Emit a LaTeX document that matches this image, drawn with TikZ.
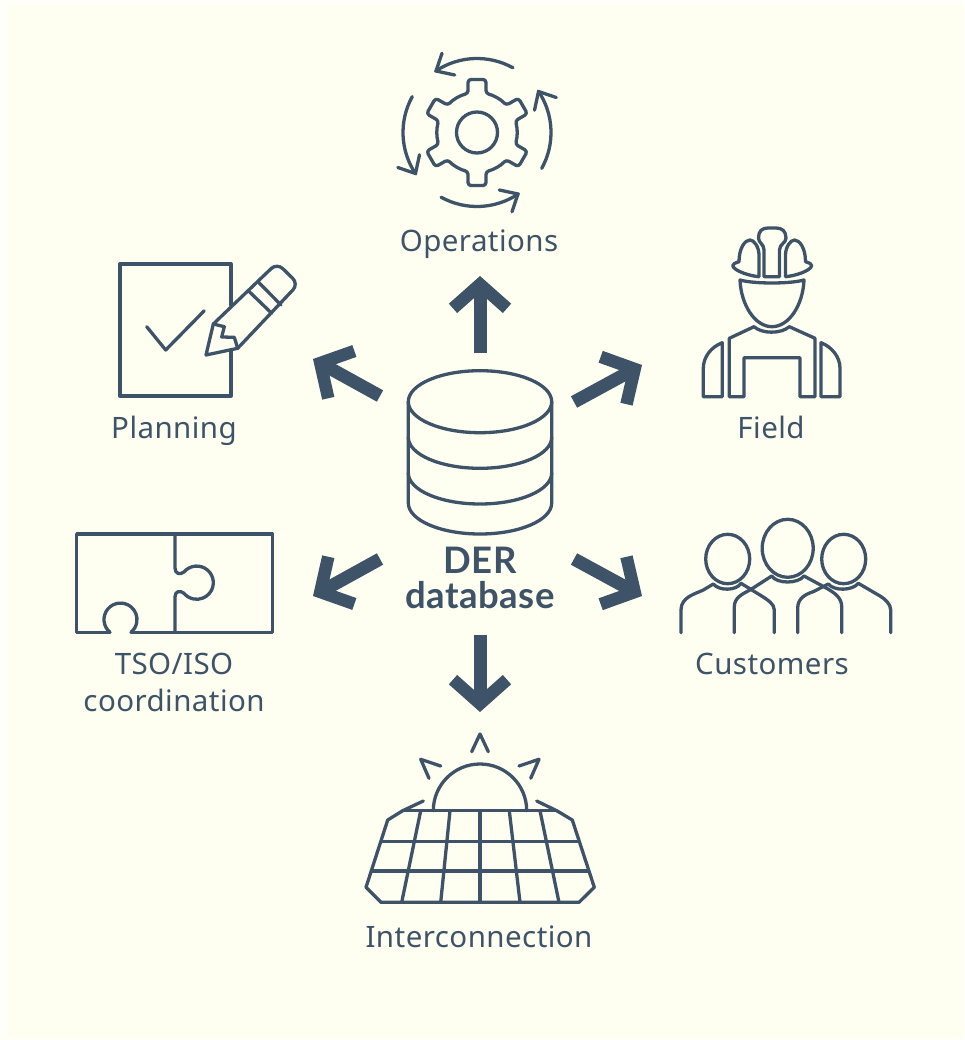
\documentclass[tikz,border=0pt]{standalone}
\usepackage{fontspec}
\setmainfont{Noto Sans}[LetterSpace=1.5]
\newfontfamily\dbfont{Lato}[LetterSpace=1.5]
\usetikzlibrary{arrows.meta}
\definecolor{slateblue}{HTML}{3E5368}
\definecolor{ivorybg}{HTML}{FEFFF0}
\definecolor{ivoryrim}{HTML}{FFFFF9}
\tikzset{
  iconline/.style={draw=slateblue, line width=3.3pt, line join=round, line cap=round},
  bigarrow/.style={draw=slateblue, line width=13pt, -{Straight Barb[length=24pt,width=54pt,line width=12.5pt]}},
  caption/.style={text=slateblue, inner sep=0pt, anchor=base, align=center, font=\fontsize{29.5}{37}\selectfont},
  dbcaption/.style={caption, font=\fontsize{36.5}{35}\selectfont\dbfont\bfseries}
}
\begin{document}
\begin{tikzpicture}[x=1pt,y=-1pt]
  \useasboundingbox (0,0) rectangle (964,1040);
  \fill[ivoryrim] (0,0) rectangle (964,1040);
  \fill[ivorybg] (8,5) rectangle (964,1038);

  % database
  \draw[iconline] (480,401.7) ellipse[x radius=71.7, y radius=31];
  \draw[iconline] (408.3,401.7) -- (408.3,503) arc[start angle=180, end angle=0, x radius=71.7, y radius=31] -- (551.7,401.7);
  \draw[iconline] (408.3,437.3) arc[start angle=180, end angle=0, x radius=71.7, y radius=31];
  \draw[iconline] (408.3,473) arc[start angle=180, end angle=0, x radius=71.7, y radius=31];
  \node[dbcaption] (dbname) at (480,573) {DER};
  \node[dbcaption] (dbname2) at (480,608) {database};

  % arrows
  \coordinate (opsFrom) at (480,353);    \coordinate (opsTo) at (480,276);
  \coordinate (planFrom) at (380,396);   \coordinate (planTo) at (313,359);
  \coordinate (fieldFrom) at (574,402);  \coordinate (fieldTo) at (642,365);
  \coordinate (tsoFrom) at (380,559);    \coordinate (tsoTo) at (313,596);
  \coordinate (custFrom) at (574,559);   \coordinate (custTo) at (642,596);
  \coordinate (intFrom) at (480,635);    \coordinate (intTo) at (480,712);
  \draw[bigarrow] (opsFrom) -- (opsTo);
  \draw[bigarrow] (planFrom) -- (planTo);
  \draw[bigarrow] (fieldFrom) -- (fieldTo);
  \draw[bigarrow] (tsoFrom) -- (tsoTo);
  \draw[bigarrow] (custFrom) -- (custTo);
  \draw[bigarrow] (intFrom) -- (intTo);

  % operations
  \begin{scope}[shift={(477,132.5)}]
    \draw[iconline] (0,0) circle (20.5);
    \draw[iconline, rounded corners=3pt] (-103:40)
      \foreach \a in {-90,-30,30,90,150,210} {
        -- (\a-9.6:53.8) -- (\a+9.6:53.8) -- (\a+13:40)
        arc[start angle=\a+13, end angle=\a+47, radius=40]
      } -- cycle;
    \foreach \a in {0,90,180,270} {
      \begin{scope}[rotate=\a]
        \draw[iconline] (-61:74) arc[start angle=-61, end angle=-124, radius=74];
        \draw[iconline] (-35,-79.2) -- (-41,-61.5) -- (-22.3,-57.5);
      \end{scope}
    }
  \end{scope}
  \node[caption] (opsname) at (479,252) {Operations};

  % field
  \draw[iconline] (764,276.7) -- (764,250) .. controls (764,244) and (758.5,243) .. (758.5,238) .. controls (758.5,231) and (762,228) .. (768,228) -- (776,228) .. controls (782,228) and (786,231) .. (786,238) .. controls (786,243) and (779.5,244) .. (779.5,250) -- (779.5,276.7) -- cycle;
  \draw[iconline] (759,276.7) -- (759,255) .. controls (759,247) and (754,240) .. (750,240) .. controls (745,240) and (739,248) .. (739,261.7) .. controls (735,263) and (732.7,264) .. (732.7,265.7) .. controls (734,271) and (750,276) .. (759,276.7);
  \draw[iconline] (785.5,276.7) -- (785.5,255) .. controls (785.5,247) and (790.5,240) .. (794.5,240) .. controls (799.5,240) and (805.5,248) .. (805.5,261.7) .. controls (809.5,263) and (811.7,264) .. (811.7,265.7) .. controls (810.5,271) and (794.5,276) .. (785.5,276.7);
  \draw[iconline] (740,280) .. controls (741,305) and (755,326.7) .. (772,326.7) .. controls (789,326.7) and (803,305) .. (804,280) .. controls (790,284) and (754,284) .. cycle;
  \draw[iconline] (729.3,396.7) -- (729.3,338.3) -- (754,326.7) .. controls (762,334) and (781,334) .. (789.3,326.7) -- (815,338.3) -- (815,396.7) -- (800,396.7) -- (800,357.7) -- (744,357.7) -- (744,396.7) -- cycle;
  \draw[iconline] (722.3,396.7) -- (722.3,342.7) .. controls (711,347) and (703.3,357) .. (703.3,368.3) -- (703.3,396.7) -- cycle;
  \draw[iconline] (821,396.7) -- (821,342.7) .. controls (832,347) and (840,357) .. (840,368.3) -- (840,396.7) -- cycle;
  \node[caption] (fieldname) at (771,438) {Field};

  % planning
  \draw[iconline] (231,305) -- (231,264) -- (120,264) -- (120,396) -- (231,396) -- (231,350);
  \draw[iconline] (146.7,326.7) -- (165.7,350) -- (204.3,310.7);
  \draw[iconline] (213.3,324) [rounded corners=8pt] -- (277,263) -- (298.5,284) [sharp corners] -- (237.7,348.3) -- (206,355) -- cycle;
  \draw[iconline] (249.3,291.7) -- (271.7,313.3);
  \draw[iconline] (259,282.7) -- (281,305);
  \draw[iconline] (213.3,324) -- (224.3,326.7) -- (221.7,337) -- (234.3,337.3) -- (237.7,348.3);
  \node[caption] (planname) at (174,438) {Planning};

  % tso/iso
  \draw[iconline] (110,632.3) -- (76.7,632.3) -- (76.7,534) -- (272.7,534) -- (272.7,632.3) -- (131,632.3);
  \draw[iconline] (110,632.3) arc[start angle=129.5, end angle=410.5, radius=16.5];
  \draw[iconline] (175,534) -- (175,568) .. controls (175,574) and (180,575) .. (184,572) arc[start angle=-140, end angle=140, radius=16.6] .. controls (180,590) and (175,591) .. (175,597) -- (175,632.3);
  \node[caption] (tsoname) at (174,711) {TSO/ISO\\coordination};

  % customers
  \draw[iconline] (787.7,548.3) ellipse[x radius=25.5, y radius=29];
  \draw[iconline] (727.7,559) ellipse[x radius=22, y radius=24.7];
  \draw[iconline] (843.7,559) ellipse[x radius=22, y radius=24.7];
  \draw[iconline] (734.3,632.7) -- (734.3,606.7) .. controls (734.3,598) and (742,594) .. (750,590) -- (771.7,576) .. controls (777,584) and (798,584) .. (804,576) -- (826.7,588.3) .. controls (835,593) and (841.7,598) .. (841.7,606.7) -- (841.7,632.7);
  \draw[iconline] (681,632.7) -- (681,610) .. controls (681,597) and (695,594) .. (703.3,590) -- (713.3,584) .. controls (719,591) and (736,591) .. (741,583.3) -- (760,595) .. controls (768,600) and (774.3,604) .. (774.3,610) -- (774.3,632.7);
  \draw[iconline] (797.7,632.7) -- (797.7,608) .. controls (797.7,598) and (806,594) .. (813.3,591.7) -- (828.3,584) .. controls (834,591) and (852,591) .. (858.3,583.3) -- (880,596) .. controls (885,599) and (890.7,604) .. (890.7,610) -- (890.7,632.7);
  \node[caption] (custname) at (772,674) {Customers};

  % interconnection
  \draw[iconline] (471.7,751.7) -- (480,734) -- (488.3,751.7);
  \draw[iconline] (429,778.3) -- (420.7,759.3) -- (440.7,766);
  \draw[iconline] (530.7,778.3) -- (539,759.3) -- (519,766);
  \draw[iconline] (433.3,810.7) arc[start angle=180, end angle=360, radius=46.7];
  \draw[iconline] (423.3,801) -- (402.7,810.7) -- (387.7,820) -- (366,887.3) -- (381,902.3) -- (579,902.3) -- (594.3,887.3) -- (572.3,820) -- (556.7,810.7) -- (536.7,801);
  \draw[iconline] (402.7,810.7) -- (556.7,810.7);
  \draw[iconline] (381.7,841.7) -- (577.7,841.7);
  \draw[iconline] (372.3,871) -- (587.7,871);
  \foreach \t/\b in {420.7/401.7,450/440.7,480/480,509.3/520,540/559} {
    \draw[iconline] (\t,810.7) -- (\b,902.3);
  }
  \node[caption] (intname) at (479,947) {Interconnection};
\end{tikzpicture}
\end{document}
